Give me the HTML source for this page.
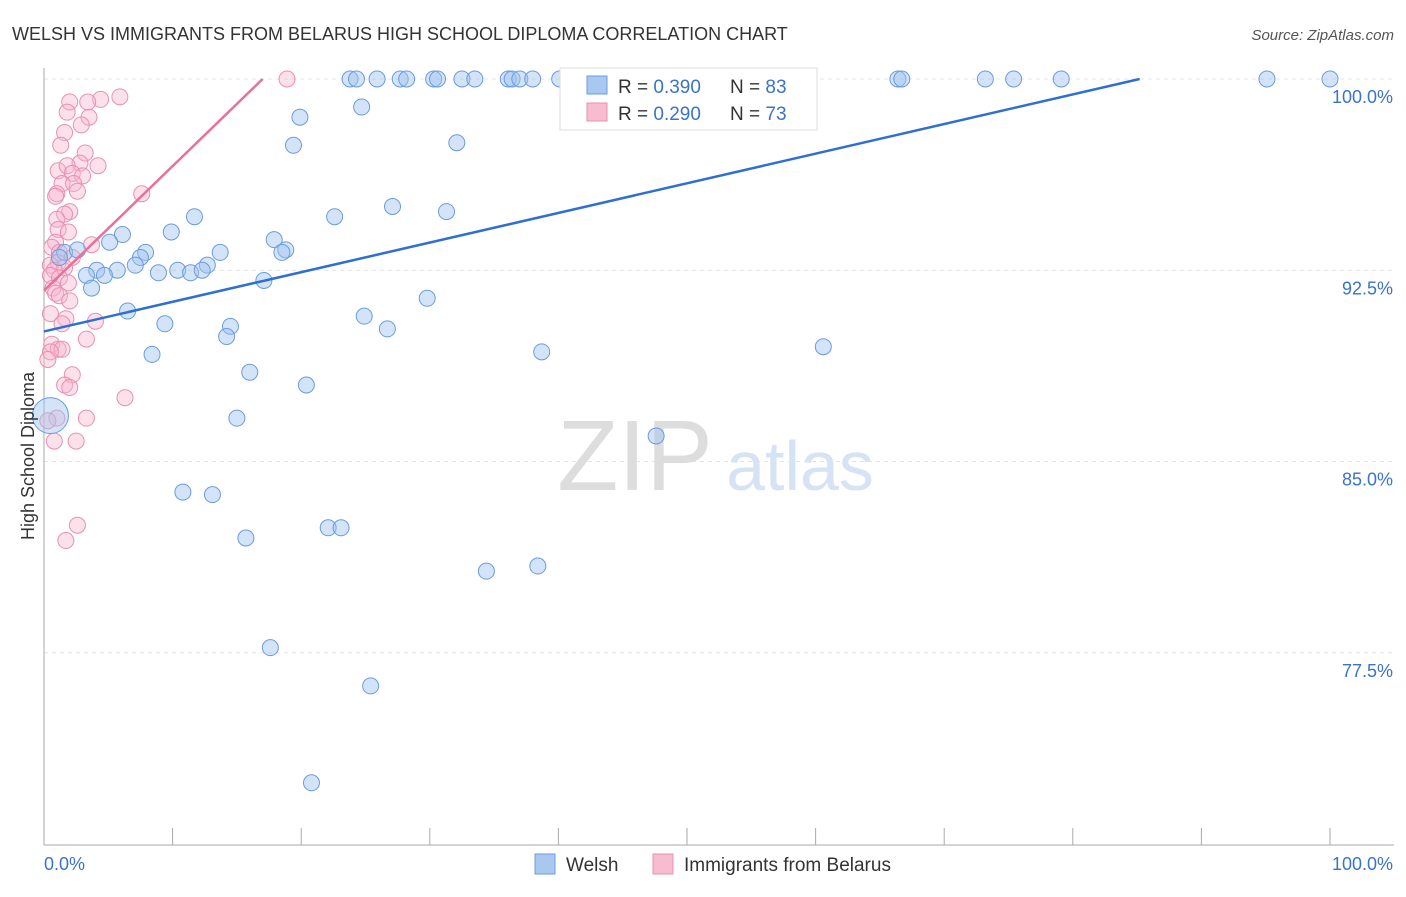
<!DOCTYPE html>
<html><head><meta charset="utf-8">
<style>
body{margin:0;background:#fff;font-family:"Liberation Sans",sans-serif;}
svg text{font-family:"Liberation Sans",sans-serif;}
</style></head>
<body>
<svg width="1406" height="892" viewBox="0 0 1406 892" xmlns="http://www.w3.org/2000/svg">
<text x="12" y="40" font-size="18" fill="#333">WELSH VS IMMIGRANTS FROM BELARUS HIGH SCHOOL DIPLOMA CORRELATION CHART</text>
<text x="1394" y="40" font-size="15" fill="#555" font-style="italic" text-anchor="end">Source: ZipAtlas.com</text>
<g id="grid"></g>
<g>
<text x="635" y="490" font-size="100" fill="#ddd" text-anchor="middle" font-family="Liberation Serif">ZIP</text>
<text x="800" y="490" font-size="70" fill="#d6e3f5" text-anchor="middle">atlas</text>
</g>
<g id="axes"></g>
<g id="pts"></g>
<g id="trends"></g>
<text transform="translate(34,456) rotate(-90)" font-size="18" fill="#333" text-anchor="middle">High School Diploma</text>
<g>
<rect x="560" y="68" width="257" height="62" fill="#fff" stroke="#ddd"/>
<rect x="587" y="76" width="20" height="18" fill="#a8c8f0" stroke="#6a9be0"/>
<rect x="587" y="103" width="20" height="18" fill="#f8bcd0" stroke="#e890b0"/>
<text x="618" y="93" font-size="19" fill="#333">R = <tspan fill="#3a73c9">0.390</tspan></text>
<text x="730" y="93" font-size="19" fill="#333">N = <tspan fill="#3a73c9">83</tspan></text>
<text x="618" y="120" font-size="19" fill="#333">R = <tspan fill="#3a73c9">0.290</tspan></text>
<text x="730" y="120" font-size="19" fill="#333">N = <tspan fill="#3a73c9">73</tspan></text>
</g>
<g>
<rect x="535" y="854" width="20" height="20" fill="#a8c8f0" stroke="#6a9be0"/>
<text x="566" y="871" font-size="19" fill="#333">Welsh</text>
<rect x="653" y="854" width="20" height="20" fill="#f8bcd0" stroke="#e890b0"/>
<text x="684" y="871" font-size="19" fill="#333">Immigrants from Belarus</text>
</g>
</svg>
<script>
// data arrays (x in %, y in %)
var wx=[23.8,24.3,25.9,27.7,28.2,30.3,30.6,32.5,33.5,36.1,36.4,37.0,38.0,40.1,41.3,45.7,54.1,66.4,66.7,73.2,75.4,79.1,95.1,100,
24.7,19.9,19.4,32.1,27.1,31.3,22.6,11.7,9.9,6.1,5.1,7.9,1.6,2.6,1.2,13.7,17.9,18.8,18.5,7.5,7.1,12.7,10.4,8.9,11.4,12.3,4.1,5.7,4.7,3.3,3.7,17.1,29.8,6.5,24.9,9.4,14.5,14.2,26.7,8.4,38.7,60.6,16.0,20.4,15.0,47.6,0.5,10.8,13.1,15.7,22.1,23.1,34.4,38.4,17.6,25.4,20.8];
var wy=[100,100,100,100,100,100,100,100,100,100,100,100,100,100,100,100,100,100,100,100,100,100,100,100,
98.9,98.5,97.4,97.5,95.0,94.8,94.6,94.6,94.0,93.9,93.6,93.2,93.2,93.3,93.0,93.2,93.7,93.3,93.2,93.0,92.7,92.7,92.5,92.4,92.4,92.5,92.5,92.5,92.3,92.3,91.8,92.1,91.4,90.9,90.7,90.4,90.3,89.9,90.2,89.2,89.3,89.5,88.5,88.0,86.7,86.0,86.8,83.8,83.7,82.0,82.4,82.4,80.7,80.9,77.7,76.2,72.4];
var px=[18.9,2.0,4.4,3.4,5.9,1.8,3.5,2.9,1.6,1.3,3.2,2.8,4.2,1.1,1.8,2.2,3.0,1.4,2.3,1.0,2.6,7.6,0.9,2.0,1.6,1.0,1.1,1.9,0.9,3.7,0.6,1.2,2.2,1.1,0.5,1.6,0.8,0.5,1.2,1.9,0.7,0.9,1.2,2.0,0.5,1.7,4.0,1.4,3.3,0.6,1.1,1.4,0.5,0.3,2.2,1.6,2.0,6.3,3.3,1.0,0.3,0.8,2.5,2.6,1.7];
var py=[100,99.1,99.2,99.1,99.3,98.7,98.5,98.2,97.9,97.4,97.1,96.7,96.6,96.4,96.6,96.3,96.2,95.9,95.9,95.5,95.6,95.5,95.4,94.8,94.7,94.5,94.1,94.0,93.6,93.5,93.4,93.2,93.0,92.8,92.7,92.6,92.5,92.3,92.2,92.0,91.8,91.6,91.5,91.3,90.8,90.6,90.5,90.4,89.8,89.6,89.4,89.4,89.3,89.0,88.4,88.0,87.9,87.5,86.7,86.7,86.6,85.8,85.8,82.5,81.9];
var welshTrend=[0,90.1,85.2,100];
var belTrend=[0,91.7,17,100];
var yTicks=[100,92.5,85,77.5];
var yTickLabels=["100.0%","92.5%","85.0%","77.5%"];
var xTickLabels=["0.0%","100.0%"];
</script>
<script>
const NS="http://www.w3.org/2000/svg";
const X=v=>44+v*12.86, Y=v=>79+(100-v)*25.5;
function mk(t,a,p){const e=document.createElementNS(NS,t);for(const k in a)e.setAttribute(k,a[k]);p.appendChild(e);return e;}
const grid=document.getElementById('grid'),axes=document.getElementById('axes'),pts=document.getElementById('pts'),tr=document.getElementById('trends');
yTicks.forEach((t,i)=>{
 const l=mk('line',{x1:44,x2:1394,y1:Y(t),y2:Y(t),stroke:'#e4e4e4','stroke-dasharray':'4,4'},grid);
 
 
 const tx=mk('text',{x:1393,y:Y(t)+24,'font-size':18,fill:'#3a73c9','text-anchor':'end'},axes);
 tx.textContent=yTickLabels[i];
 
 
});
const ax=mk('line',{x1:44,x2:44,y1:68,y2:845,stroke:'#aaa'},axes);


const bx=mk('line',{x1:44,x2:1394,y1:845,y2:845,stroke:'#aaa'},axes);


for(let i=0;i<=10;i++){const t=mk('line',{x1:X(i*10),x2:X(i*10),y1:828,y2:845,stroke:'#aaa'},axes);
 
 }
[[0,'start',44],[100,'end',1393]].forEach((d,i)=>{const t=mk('text',{x:d[2],y:870,'font-size':18,fill:'#3a73c9','text-anchor':d[1]},axes);t.textContent=xTickLabels[i];
 
 });
px.forEach((v,i)=>{const c=mk('circle',{cx:X(v),cy:Y(py[i]),r:8,fill:'rgba(248,180,205,0.4)',stroke:'#e890b0','stroke-width':1},pts);
 
 });
wx.forEach((v,i)=>{const c=mk('circle',{cx:X(v),cy:Y(wy[i]),r:(i==70?18:8),fill:'rgba(160,195,240,0.45)',stroke:'#6a9be0','stroke-width':1},pts);
 
 });
const a=mk('line',{x1:X(welshTrend[0]),y1:Y(welshTrend[1]),x2:X(welshTrend[2]),y2:Y(welshTrend[3]),stroke:'#2f6fd0','stroke-width':2.5},tr);


const b=mk('line',{x1:X(belTrend[0]),y1:Y(belTrend[1]),x2:X(belTrend[2]),y2:Y(belTrend[3]),stroke:'#e8709a','stroke-width':2.5},tr);


</script>
</body></html>
